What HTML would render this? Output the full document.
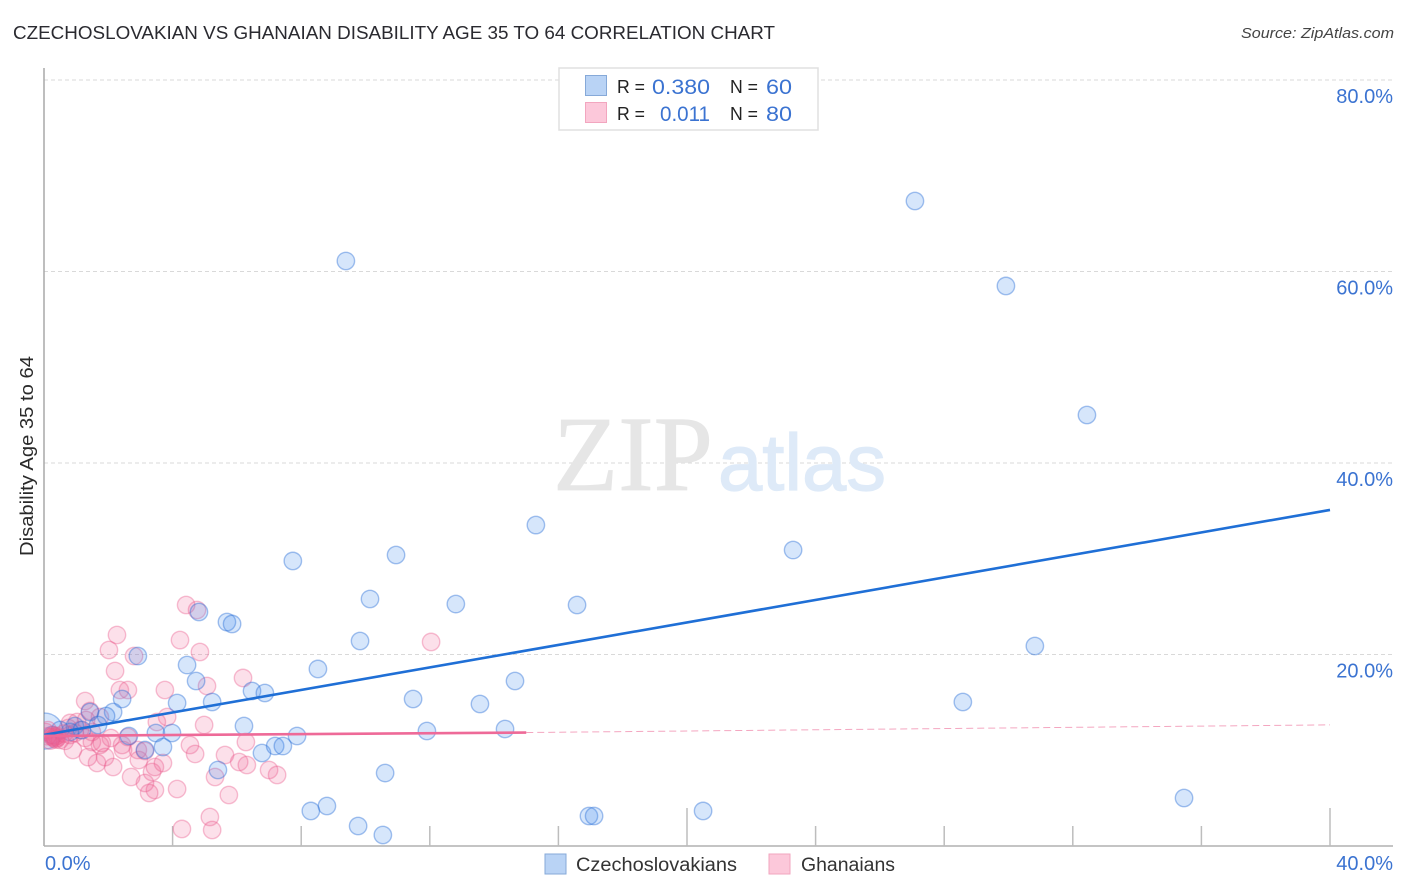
<!DOCTYPE html>
<html lang="en">
<head>
<meta charset="utf-8">
<title>Czechoslovakian vs Ghanaian Disability Age 35 to 64 Correlation Chart</title>
<style>
html,body{margin:0;padding:0;background:#fff;}
body{width:1406px;height:892px;overflow:hidden;font-family:"Liberation Sans",sans-serif;}
svg{display:block;}
text{font-family:"Liberation Sans",sans-serif;}
</style>
</head>
<body>
<svg id="chart" xmlns="http://www.w3.org/2000/svg" width="1406" height="892" viewBox="0 0 1406 892">
  <defs>
    <clipPath id="plot-clip"><rect x="44" y="68" width="1349" height="778"/></clipPath>
  </defs>
  <rect x="0" y="0" width="1406" height="892" fill="#fff"/>
  <text x="13" y="39" font-size="18.5" fill="#2a2a30" textLength="762" lengthAdjust="spacingAndGlyphs">CZECHOSLOVAKIAN VS GHANAIAN DISABILITY AGE 35 TO 64 CORRELATION CHART</text>
  <text x="1241" y="38" font-size="15" font-style="italic" fill="#444" textLength="153" lengthAdjust="spacingAndGlyphs">Source: ZipAtlas.com</text>
  <g id="grid"></g>
  <g>
    <text x="553" y="490" font-size="107" fill="#e6e6e6" stroke="#e6e6e6" stroke-width="0.8" style="font-family:'Liberation Serif',serif" textLength="160" lengthAdjust="spacingAndGlyphs">ZIP</text>
    <text x="718" y="490" font-size="80" fill="#deeaf8" stroke="#deeaf8" stroke-width="1.2" textLength="168" lengthAdjust="spacingAndGlyphs">atlas</text>
  </g>
  <g id="axes"></g>
  <g clip-path="url(#plot-clip)">
    <g id="pink-points"></g>
    <g id="blue-points"></g>
    <g id="pink-cluster"></g>
    <g id="trends"></g>
  </g>
  <g id="tick-labels"></g>
  <text transform="translate(33,456) rotate(-90)" font-size="18" fill="#2a2a2a" text-anchor="middle" textLength="200" lengthAdjust="spacingAndGlyphs">Disability Age 35 to 64</text>

  <g>
    <rect x="559" y="68" width="259" height="62" fill="#fff" stroke="#e0e0e0" stroke-width="1.5"/>
    <rect x="585.5" y="75.5" width="21" height="20" fill="#b9d3f5" stroke="#86a9d8" stroke-width="1"/>
    <rect x="585.5" y="102.5" width="21" height="20" fill="#fcc8da" stroke="#f2a6bf" stroke-width="1"/>
    <text x="617" y="93" font-size="18.5" fill="#222" textLength="28" lengthAdjust="spacingAndGlyphs">R =</text>
    <text x="652" y="94" font-size="21" fill="#3b73d1" textLength="58" lengthAdjust="spacingAndGlyphs">0.380</text>
    <text x="730" y="93" font-size="18.5" fill="#222" textLength="28" lengthAdjust="spacingAndGlyphs">N =</text>
    <text x="766" y="94" font-size="21" fill="#3b73d1" textLength="26" lengthAdjust="spacingAndGlyphs">60</text>
    <text x="617" y="120" font-size="18.5" fill="#222" textLength="28" lengthAdjust="spacingAndGlyphs">R =</text>
    <text x="660" y="121" font-size="21" fill="#3b73d1" textLength="50" lengthAdjust="spacingAndGlyphs">0.011</text>
    <text x="730" y="120" font-size="18.5" fill="#222" textLength="28" lengthAdjust="spacingAndGlyphs">N =</text>
    <text x="766" y="121" font-size="21" fill="#3b73d1" textLength="26" lengthAdjust="spacingAndGlyphs">80</text>
  </g>

  <g>
    <rect x="545" y="854" width="21" height="20" fill="#b9d3f5" stroke="#86a9d8" stroke-width="1"/>
    <text x="576" y="871" font-size="19" fill="#333" textLength="161" lengthAdjust="spacingAndGlyphs">Czechoslovakians</text>
    <rect x="769" y="854" width="21" height="20" fill="#fcc8da" stroke="#f2a6bf" stroke-width="1"/>
    <text x="801" y="871" font-size="19" fill="#333" textLength="94" lengthAdjust="spacingAndGlyphs">Ghanaians</text>
  </g>
</svg>
<script>
const minorTicks = [4, 8, 12, 16, 24, 28, 32, 36];
const majorTicks = [20, 40];
const gridValues = [20, 40, 60, 80];
const yTickLabels = ["20.0%", "40.0%", "60.0%", "80.0%"];
const xTickValues = [0, 40];
const xTickLabels = ["0.0%", "40.0%"];

const blueX = [27.09, 9.39, 29.92, 32.44, 15.30, 23.30, 10.95, 7.74, 10.14, 12.81, 16.58, 4.82, 5.69, 5.85, 9.83, 30.82, 2.92, 4.45, 8.52, 4.73, 14.65, 6.47, 6.87, 2.43, 11.48, 5.23, 4.14, 13.56, 28.58, 2.15, 1.93, 1.43, 1.68, 14.34, 6.22, 11.91, 3.48, 3.98, 2.64, 3.14, 3.70, 5.41, 6.78, 7.19, 7.43, 7.87, 10.61, 35.46, 20.50, 16.95, 17.11, 8.80, 8.30, 9.77, 10.54, 0.81, 0.50, 0.96, 1.18, 0.25];
const blueY = [67.36, 61.10, 58.49, 45.01, 33.52, 30.91, 30.39, 29.77, 25.80, 25.27, 25.17, 24.44, 23.39, 23.19, 21.41, 20.89, 19.84, 18.90, 18.49, 17.23, 17.23, 16.19, 15.98, 15.35, 15.35, 15.04, 14.93, 14.83, 15.04, 13.99, 13.58, 13.99, 12.64, 12.22, 12.53, 12.01, 11.80, 11.80, 11.49, 10.03, 10.34, 7.94, 9.71, 10.44, 10.44, 11.49, 7.62, 5.01, 3.66, 3.13, 3.13, 4.18, 3.66, 2.09, 1.15, 11.91, 12.11, 12.53, 12.11, 11.59];

const pinkX = [4.42, 4.76, 2.27, 4.23, 12.04, 2.02, 4.85, 2.80, 2.21, 6.19, 5.07, 2.36, 2.61, 3.76, 1.28, 1.43, 3.83, 3.51, 4.98, 0.81, 1.03, 1.74, 2.08, 2.61, 6.28, 4.54, 4.70, 5.63, 6.07, 6.31, 7.00, 7.25, 5.32, 5.75, 5.16, 5.23, 4.29, 4.14, 3.45, 3.27, 3.14, 2.71, 2.15, 3.36, 3.45, 3.70, 2.95, 3.14, 2.46, 1.90, 1.65, 1.37, 0.90, 1.74, 1.49, 2.92, 2.43, 1.80, 1.28, 0.81, 0.96, 1.12, 0.75, 1.49, 1.31];
const pinkY = [25.17, 24.65, 22.04, 21.51, 21.31, 20.47, 20.26, 19.84, 18.28, 17.55, 16.71, 16.29, 16.29, 16.29, 15.14, 14.10, 13.47, 12.95, 12.64, 12.85, 12.95, 13.47, 11.28, 11.38, 10.86, 10.55, 9.61, 9.50, 8.77, 8.46, 7.94, 7.42, 7.21, 5.33, 3.03, 1.67, 1.78, 5.95, 5.85, 5.54, 6.58, 7.21, 8.25, 7.73, 8.25, 8.67, 8.98, 9.92, 10.03, 9.29, 8.67, 9.29, 10.03, 10.55, 10.86, 10.03, 10.55, 10.76, 11.28, 11.59, 11.80, 12.11, 12.32, 11.91, 13.16];

const pinkClusterX = [0.05, 0.12, 0.25, 0.30, 0.34, 0.40, 0.35, 0.42, 0.30, 0.37, 0.50, 0.62, 0.65, 0.20, 0.10];
const pinkClusterY = [11.90, 12.11, 11.40, 11.30, 11.40, 11.50, 11.20, 11.30, 11.55, 11.10, 11.07, 11.75, 10.97, 11.00, 11.45];

const clusterBlueX = [0.03];
const clusterBlueY = [12.0];

const blueTrendX = [0, 40];
const blueTrendY = [11.6, 35.1];
const pinkSolidX = [0, 15];
const pinkSolidY = [11.5, 11.85];
const pinkDashX = [15, 40];
const pinkDashY = [11.85, 12.65];

const SVGNS = "http://www.w3.org/2000/svg";
function xs(v) { return 44 + v * 32.15; }
function ys(v) { return 846 - v * 9.575; }
function make(tag, attrs, parent) {
  const el = document.createElementNS(SVGNS, tag);
  for (const k in attrs) el.setAttribute(k, attrs[k]);
  parent.appendChild(el);
  return el;
}

const gridG = document.getElementById("grid");
gridValues.forEach(function (v) {
  const el = make("line", { x1: 44, x2: 1393, y1: ys(v), y2: ys(v), stroke: "#d9d9d9", "stroke-width": 1, "stroke-dasharray": "4 3" }, gridG);
  
  
});

const axesG = document.getElementById("axes");
const yAxis = make("line", { x1: 44, x2: 44, y1: 68, y2: 846, stroke: "#a8a8a8", "stroke-width": 1.5 }, axesG);


const xAxis = make("line", { x1: 44, x2: 1393, y1: 846, y2: 846, stroke: "#b0b0b0", "stroke-width": 1.5 }, axesG);


minorTicks.forEach(function (v) {
  const el = make("line", { x1: xs(v), x2: xs(v), y1: 826, y2: 846, stroke: "#bdbdbd", "stroke-width": 1.5 }, axesG);
  
  
});
majorTicks.forEach(function (v) {
  const el = make("line", { x1: xs(v), x2: xs(v), y1: 808, y2: 846, stroke: "#bdbdbd", "stroke-width": 1.5 }, axesG);
  
  
});

const PINK_FILL = "rgba(240,100,150,0.2)";
const PINK_STROKE = "rgba(235,90,140,0.38)";
const BLUE_FILL = "rgba(70,140,235,0.22)";
const BLUE_STROKE = "rgba(40,110,215,0.42)";

const pinkG = document.getElementById("pink-points");
pinkX.forEach(function (x, i) {
  const el = make("circle", { cx: xs(x), cy: ys(pinkY[i]), r: 8.7, fill: PINK_FILL, stroke: PINK_STROKE, "stroke-width": 1.4 }, pinkG);
  
  
});

const blueG = document.getElementById("blue-points");
clusterBlueX.forEach(function (x, i) {
  const el = make("circle", { cx: xs(x), cy: ys(clusterBlueY[i]), r: 18, fill: BLUE_FILL, stroke: BLUE_STROKE, "stroke-width": 1.4 }, blueG);
  
  
});
blueX.forEach(function (x, i) {
  const el = make("circle", { cx: xs(x), cy: ys(blueY[i]), r: 8.7, fill: BLUE_FILL, stroke: BLUE_STROKE, "stroke-width": 1.4 }, blueG);
  
  
});

const pinkClusterG = document.getElementById("pink-cluster");
pinkClusterX.forEach(function (x, i) {
  const el = make("circle", { cx: xs(x), cy: ys(pinkClusterY[i]), r: 8.7, fill: PINK_FILL, stroke: PINK_STROKE, "stroke-width": 1.2 }, pinkClusterG);
  
  
});

const trendG = document.getElementById("trends");
const blueTrend = make("line", { x1: xs(blueTrendX[0]), y1: ys(blueTrendY[0]), x2: xs(blueTrendX[1]), y2: ys(blueTrendY[1]), stroke: "#1f6fd6", "stroke-width": 2.6 }, trendG);


const pinkDash = make("line", { x1: xs(pinkDashX[0]), y1: ys(pinkDashY[0]), x2: xs(pinkDashX[1]), y2: ys(pinkDashY[1]), stroke: "#f4a6c0", "stroke-width": 1, "stroke-dasharray": "7 4" }, trendG);


const pinkSolid = make("line", { x1: xs(pinkSolidX[0]), y1: ys(pinkSolidY[0]), x2: xs(pinkSolidX[1]), y2: ys(pinkSolidY[1]), stroke: "#ee6a98", "stroke-width": 2.6 }, trendG);



const labelG = document.getElementById("tick-labels");
gridValues.forEach(function (v, i) {
  const el = make("text", { x: 1393, y: ys(v) + 23, "font-size": 20, fill: "#3b73d1", "text-anchor": "end" }, labelG);
  el.textContent = yTickLabels[i];
  
  
});
xTickValues.forEach(function (v, i) {
  const el = make("text", { x: i === 0 ? xs(v) + 1 : 1393, y: 870, "font-size": 20, fill: "#3b73d1", "text-anchor": i === 0 ? "start" : "end" }, labelG);
  el.textContent = xTickLabels[i];
  
  
});
</script>
</body>
</html>
